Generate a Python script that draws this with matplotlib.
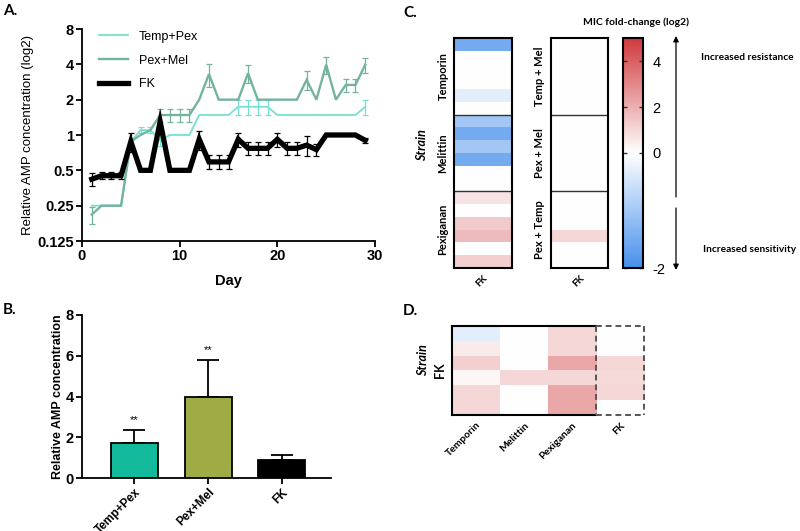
import numpy as np
import matplotlib
matplotlib.use('Agg')
from matplotlib import pyplot as plt
from matplotlib.colors import LinearSegmentedColormap, TwoSlopeNorm
from matplotlib.ticker import NullLocator

plt.rcParams['font.family'] = ['Liberation Sans', 'DejaVu Sans']

# ---- panel A: relative AMP concentration over time ----
days = list(range(1, 30))
temp_pex = [0.25, 0.25, 0.25, 0.25, 0.88, 1.1, 1.1, 0.9, 1.0, 1.0, 1.0, 1.48, 1.48,
            1.48, 1.48, 1.74, 1.74, 1.74, 1.74, 1.48, 1.48, 1.48, 1.48, 1.48, 1.48,
            1.48, 1.48, 1.48, 1.74]
temp_pex_sd = [0, 0, 0, 0, 0, 0.07, 0.07, 0.1, 0, 0, 0, 0, 0, 0, 0, 0.25, 0.25, 0.25,
               0.25, 0, 0, 0, 0, 0, 0, 0, 0, 0, 0.25]
pex_mel = [0.21, 0.25, 0.25, 0.25, 0.88, 1.0, 1.1, 1.48, 1.48, 1.48, 1.48, 2.0, 3.3,
           2.0, 2.0, 2.0, 3.35, 2.0, 2.0, 2.0, 2.0, 2.0, 2.95, 2.0, 3.97, 2.0, 2.67,
           2.67, 3.97]
pex_mel_sd = [0.035, 0, 0, 0, 0, 0, 0, 0.2, 0.2, 0.2, 0.2, 0, 0.75, 0, 0, 0, 0.6, 0,
              0, 0, 0, 0, 0.55, 0, 0.65, 0, 0.35, 0.35, 0.6]
fk = [0.42, 0.45, 0.45, 0.45, 0.88, 0.5, 0.5, 1.3, 0.5, 0.5, 0.5, 0.92, 0.59, 0.59,
      0.59, 0.92, 0.77, 0.77, 0.77, 0.92, 0.77, 0.77, 0.82, 0.75, 1.0, 1.0, 1.0, 1.0,
      0.9]
fk_sd = [0.05, 0.03, 0.03, 0.03, 0.16, 0, 0, 0, 0, 0, 0, 0.17, 0.08, 0.08, 0.08,
         0.13, 0.1, 0.1, 0.1, 0.13, 0.1, 0.1, 0.16, 0.09, 0, 0, 0, 0, 0.05]
log_ticks = [0.125, 0.25, 0.5, 1, 2, 4, 8]
log_tick_labels = ['0.125', '0.25', '0.5', '1', '2', '4', '8']
day_ticks = [0, 10, 20, 30]

# ---- panel B: final concentration ----
groups = ['Temp+Pex', 'Pex+Mel', 'FK']
final_mean = [1.72, 3.97, 0.9]
final_sd = [0.63, 1.82, 0.22]
final_sig = ['**', '**', '']
b_ticks = [0, 2, 4, 6, 8]

# ---- panel C: MIC fold-change (log2), 6 replicates per group ----
single_groups = ['Temporin', 'Melittin', 'Pexiganan']
single_fk = [-1.5, 0, 0, 0, -0.3, 0,
             -1.0, -1.5, -1.0, -1.5, 0, 0,
             0.7, 0, 1.3, 1.7, 0, 1.2]
combo_groups = ['Temp + Mel', 'Pex + Mel', 'Pex + Temp']
combo_fk = [0, 0, 0, 0, 0, 0,
            0, 0, 0, 0, 0, 0,
            0, 0, 0, 1.0, 0, 0]
cbar_ticks = [-2, 0, 2, 4]

# ---- panel D: FK strains against each AMP ----
d_columns = ['Temporin', 'Melittin', 'Pexiganan', 'FK']
d_temporin = [-0.3, 0.5, 1.2, 0.2, 1.0, 1.0]
d_melittin = [0, 0, 0, 1.0, 0, 0]
d_pexiganan = [1.0, 1.0, 2.2, 1.0, 2.2, 2.2]
d_fk = [0, 0, 1.0, 0.9, 1.0, 0]

W, H = 800, 531
fig = plt.figure(figsize=(W / 100, H / 100), dpi=100)


def px_axes(left, top, right, bottom):
    return fig.add_axes([left / W, 1 - bottom / H, (right - left) / W, (bottom - top) / H])


def style_axes(ax):
    for s in ['top', 'right']:
        ax.spines[s].set_visible(False)
    for s in ['left', 'bottom']:
        ax.spines[s].set_linewidth(1.3)
    ax.tick_params(width=1.3, length=4, pad=2)
    for t in ax.xaxis.get_major_ticks() + ax.yaxis.get_major_ticks():
        t.label1.set_fontweight('bold')


# panel A
c_tp, c_pm = '#76e1d3', '#74b3a0'
axA = px_axes(82, 29, 375, 241)
series = [(temp_pex, temp_pex_sd, c_tp, 1.3, 'Temp+Pex'),
          (pex_mel, pex_mel_sd, c_pm, 1.7, 'Pex+Mel'),
          (fk, fk_sd, 'black', 3.8, 'FK')]
for vals, sd, col, lw, name in series:
    x = np.array(days)
    v = np.array(vals)
    e = np.array(sd)
    axA.plot(x, v, color=col, lw=lw, label=name, solid_joinstyle='miter')
    m = e > 0
    axA.errorbar(x[m], v[m], yerr=e[m], fmt='none', ecolor=col, elinewidth=0.9,
                 capsize=2.2, capthick=0.9)
axA.set_yscale('log', base=2)
axA.set_ylim(0.125, 8)
axA.yaxis.set_minor_locator(NullLocator())
axA.set_yticks(log_ticks, labels=log_tick_labels, fontweight='bold', fontsize=10.5)
axA.set_xlim(0, 30)
axA.set_xticks(day_ticks, labels=[str(d) for d in day_ticks], fontweight='bold',
               fontsize=10.5)
style_axes(axA)
axA.set_ylabel('Relative AMP concentration (log2)', fontsize=9.5, labelpad=2)
axA.set_xlabel('Day', fontsize=10.5, fontweight='bold', labelpad=8)
axA.legend(loc='upper left', bbox_to_anchor=(0.02, 1.045), frameon=False, fontsize=9,
           handlelength=2.3, labelspacing=0.95, handletextpad=0.9)

# panel B
bar_colors = ['#12b99a', '#9fac45', '#000000']
axB = px_axes(82, 315, 331, 478)
xb = np.arange(len(groups))
axB.bar(xb, final_mean, width=0.64, color=bar_colors, edgecolor='black', lw=1.3,
        zorder=3)
axB.errorbar(xb, final_mean, yerr=[np.zeros(len(groups)), final_sd], fmt='none',
             ecolor='black', elinewidth=1.3, capsize=8, capthick=1.3, zorder=2)
for xi, m, s, sig in zip(xb, final_mean, final_sd, final_sig):
    if sig:
        axB.text(xi, m + s + 0.25, sig, ha='center', va='bottom', fontsize=8)
axB.set_xlim(-0.713, 2.67)
axB.set_ylim(0, 8)
axB.set_yticks(b_ticks, labels=[str(t) for t in b_ticks], fontweight='bold',
               fontsize=10.5)
axB.set_xticks(xb, labels=groups, rotation=45, ha='right', rotation_mode='anchor',
               fontweight='bold', fontsize=8.5)
style_axes(axB)
axB.set_ylabel('Relative AMP concentration', fontsize=9, fontweight='bold', labelpad=1)

# colour map
cmap = LinearSegmentedColormap.from_list('mic', ['#4690ec', '#ffffff', '#d0393b'])
norm = TwoSlopeNorm(vmin=-2, vcenter=0, vmax=5)
lato = ['Lato', 'DejaVu Sans']


def heat_column(ax, vals, group_names):
    ax.imshow(np.array(vals).reshape(-1, 1), aspect='auto', cmap=cmap, norm=norm,
              interpolation='nearest')
    n = len(vals) // len(group_names)
    for k in range(1, len(group_names)):
        ax.axhline(k * n - 0.5, color='#333333', lw=1.0)
    ax.set_yticks([k * n + (n - 1) / 2 for k in range(len(group_names))])
    ax.set_yticklabels(group_names, rotation=90, va='center', family=lato,
                       fontweight='bold', fontsize=8)
    ax.set_xticks([0])
    ax.set_xticklabels(['FK'], rotation=45, ha='right', rotation_mode='anchor',
                       family=lato, fontweight='bold', fontsize=7)
    ax.tick_params(length=0, pad=4)
    for s in ax.spines.values():
        s.set_linewidth(1.5)


axC1 = px_axes(454, 38, 512, 268)
heat_column(axC1, single_fk, single_groups)
axC2 = px_axes(551, 38, 608, 268)
heat_column(axC2, combo_fk, combo_groups)

cax = px_axes(623, 38, 643, 268)
sm = plt.cm.ScalarMappable(norm=norm, cmap=cmap)
cb = fig.colorbar(sm, cax=cax)
cb.set_ticks(cbar_ticks)
cb.set_ticklabels([str(t) for t in cbar_ticks])
cb.ax.tick_params(direction='in', length=3, width=1, left=True, right=True,
                  labelsize=10.5, pad=7, color='#333333')
cb.outline.set_linewidth(1.5)
cb.ax.set_ylim(-2, 5)

# panel D
axD = px_axes(452, 326, 644, 415)
d_vals = np.array([d_temporin, d_melittin, d_pexiganan, d_fk]).T
axD.imshow(d_vals, aspect='auto', cmap=cmap, norm=norm, interpolation='nearest')
for s in ['top', 'right', 'bottom']:
    axD.spines[s].set_visible(False)
axD.spines['left'].set_linewidth(1.5)
nrow, ncol = d_vals.shape
top, bot = -0.5, nrow - 0.5
axD.plot([-0.5, ncol - 1.5], [top, top], color='black', lw=1.5, clip_on=False)
axD.plot([-0.5, ncol - 1.5], [bot, bot], color='black', lw=1.5, clip_on=False)
dash = dict(color='#555555', lw=1.4, ls=(0, (3, 2)), clip_on=False)
axD.plot([ncol - 1.5, ncol - 0.5], [top, top], **dash)
axD.plot([ncol - 1.5, ncol - 0.5], [bot, bot], **dash)
axD.plot([ncol - 1.5, ncol - 1.5], [top, bot], **dash)
axD.plot([ncol - 0.5, ncol - 0.5], [top, bot], **dash)
axD.set_xlim(-0.5, ncol - 0.5)
axD.set_ylim(bot, top)
axD.set_xticks(range(ncol))
axD.set_xticklabels(d_columns, rotation=45, ha='right', rotation_mode='anchor',
                    family=lato, fontweight='bold', fontsize=7.5)
axD.set_yticks([(nrow - 1) / 2])
axD.set_yticklabels(['FK'], rotation=90, va='center', family=lato,
                    fontweight='bold', fontsize=9)
axD.tick_params(length=0, pad=4)

# annotations in pixel space
ov = fig.add_axes([0, 0, 1, 1])
ov.set_xlim(0, W)
ov.set_ylim(H, 0)
ov.axis('off')
for lab, (x, y) in zip(['A.', 'B.', 'C.', 'D.'],
                       [(3, 11), (3, 310), (403, 13), (403, 311)]):
    ov.text(x, y, lab, fontsize=11, fontweight='bold', family=lato, va='center')
ov.text(422, 145, 'Strain', rotation=90, fontsize=9, fontweight='bold',
        style='italic', family=lato, ha='center', va='center')
ov.text(423, 360, 'Strain', rotation=90, fontsize=9, fontweight='bold',
        style='italic', family=lato, ha='center', va='center')
ov.text(636, 22, 'MIC fold-change (log2)', fontsize=7.5, fontweight='bold',
        family=lato, ha='center', va='center')
ov.text(747, 57, 'Increased resistance', fontsize=7.3, fontweight='bold',
        family=lato, ha='center', va='center')
ov.text(750, 250, 'Increased sensitivity', fontsize=7.3, fontweight='bold',
        family=lato, ha='center', va='center')
arrow = dict(arrowstyle='-|>', color='black', lw=0.9, mutation_scale=8,
             shrinkA=0, shrinkB=0)
ov.annotate('', xy=(676, 36), xytext=(676, 197), arrowprops=arrow)
ov.annotate('', xy=(676, 270), xytext=(676, 208), arrowprops=arrow)

fig.savefig('out.png', dpi=100)
